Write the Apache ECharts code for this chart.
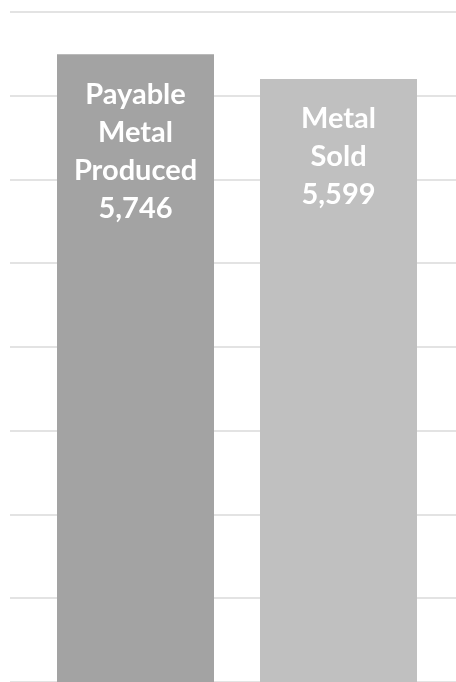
<!DOCTYPE html>
<html>
<head>
<meta charset="utf-8">
<script src="https://cdn.jsdelivr.net/npm/echarts@6/dist/echarts.min.js"></script>
<style>
  html, body { margin: 0; padding: 0; background: #ffffff; }
  #chart { width: 456px; height: 682px; }
</style>
</head>
<body>
<div id="chart"></div>
<script>
// Metal volumes: produced vs sold
const categories = ['Payable\nMetal\nProduced', 'Metal\nSold'];
const values = [5746, 5599];
const barColors = ['#a3a3a3', '#c0c0c0'];

// Value-axis range shown (the view is cropped to the upper part of the bars)
const axisMin = 2000;
const axisMax = 6000;
const axisStep = 500;

const chart = echarts.init(document.getElementById('chart'), null, { renderer: 'canvas' });

const plotTop = 11.7;
const plotHeight = 675.8;

chart.setOption({
  animation: false,
  backgroundColor: '#ffffff',
  grid: [
    // wide grid carrying only the horizontal gridlines
    { left: 10, right: 0, top: plotTop, height: plotHeight },
    // grid carrying the bars
    { left: 34, right: 16, top: plotTop, height: plotHeight }
  ],
  xAxis: [
    { gridIndex: 0, type: 'category', data: categories, show: false },
    { gridIndex: 1, type: 'category', data: categories, show: false }
  ],
  yAxis: [
    {
      gridIndex: 0, type: 'value', min: axisMin, max: axisMax, interval: axisStep,
      axisLine: { show: false }, axisTick: { show: false }, axisLabel: { show: false },
      splitLine: { show: true, lineStyle: { color: '#e3e3e3', width: 2 } }
    },
    {
      gridIndex: 1, type: 'value', min: axisMin, max: axisMax, interval: axisStep,
      show: false, splitLine: { show: false }
    }
  ],
  series: [
    {
      type: 'bar',
      xAxisIndex: 1,
      yAxisIndex: 1,
      barWidth: 157,
      data: values.map((v, i) => ({ value: v, itemStyle: { color: barColors[i] } })),
      label: {
        show: true,
        position: 'insideTop',
        distance: 21,
        color: '#ffffff',
        fontFamily: 'Lato',
        fontWeight: 'bold',
        fontSize: 29,
        lineHeight: 38,
        align: 'center',
        formatter: (p) => p.name + '\n' + p.value.toLocaleString('en-US')
      }
    }
  ]
});
</script>
</body>
</html>
